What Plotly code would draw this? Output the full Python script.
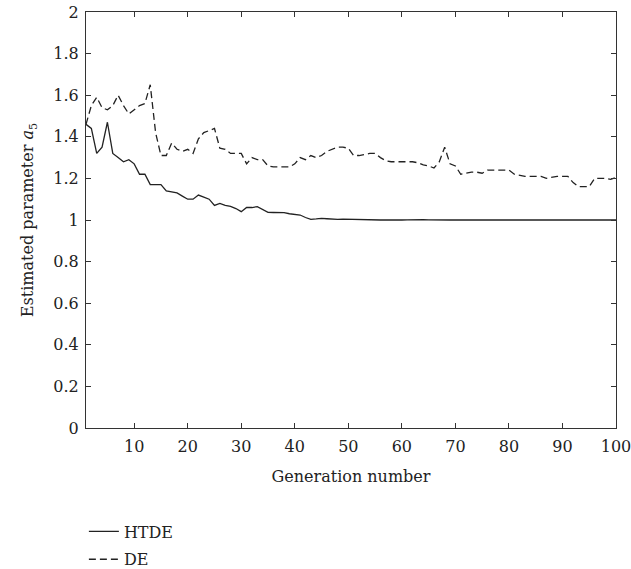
import plotly.graph_objects as go

generations = list(range(1, 101))

htde = [1.46, 1.44, 1.32, 1.35, 1.47, 1.32, 1.30, 1.28, 1.29, 1.27,
        1.22, 1.22, 1.17, 1.17, 1.17, 1.14, 1.135, 1.13, 1.115, 1.10,
        1.10, 1.12, 1.11, 1.10, 1.07, 1.08, 1.07, 1.065, 1.055, 1.04,
        1.06, 1.06, 1.064, 1.05, 1.037, 1.036, 1.036, 1.035, 1.03, 1.028,
        1.024, 1.012, 1.003, 1.005, 1.008, 1.006, 1.004, 1.003, 1.004, 1.003,
        1.004, 1.002, 1.001, 1.0, 1.001, 1.0, 1.0, 0.999, 1.0, 1.0,
        1.001, 1.002, 1.003, 1.002, 1.001, 1.0, 1.0, 1.0, 1.0, 1.0,
        1.0, 1.0, 1.0, 1.0, 1.0, 1.0, 1.0, 1.0, 1.0, 1.0,
        1.0, 1.0, 1.0, 1.0, 1.0, 1.0, 1.0, 1.0, 1.0, 1.0,
        1.0, 1.0, 1.0, 1.0, 1.0, 1.0, 1.0, 1.0, 1.0, 1.0]

de = [1.46, 1.55, 1.59, 1.54, 1.53, 1.55, 1.60, 1.55, 1.51, 1.53,
      1.55, 1.56, 1.65, 1.42, 1.31, 1.31, 1.37, 1.34, 1.33, 1.34,
      1.32, 1.39, 1.42, 1.43, 1.44, 1.345, 1.34, 1.32, 1.32, 1.32,
      1.27, 1.30, 1.29, 1.29, 1.26, 1.255, 1.255, 1.255, 1.255, 1.27,
      1.30, 1.29, 1.31, 1.30, 1.31, 1.33, 1.34, 1.35, 1.35, 1.345,
      1.31, 1.31, 1.315, 1.32, 1.32, 1.30, 1.285, 1.28, 1.28, 1.28,
      1.28, 1.28, 1.275, 1.265, 1.26, 1.25, 1.28, 1.35, 1.27, 1.26,
      1.22, 1.225, 1.23, 1.23, 1.225, 1.24, 1.24, 1.24, 1.24, 1.24,
      1.22, 1.215, 1.21, 1.21, 1.21, 1.21, 1.20, 1.205, 1.21, 1.21,
      1.21, 1.18, 1.16, 1.16, 1.16, 1.20, 1.20, 1.20, 1.195, 1.205]

x_ticks = [10, 20, 30, 40, 50, 60, 70, 80, 90, 100]
y_ticks = [0, 0.2, 0.4, 0.6, 0.8, 1, 1.2, 1.4, 1.6, 1.8, 2]
y_tick_text = ["0", "0.2", "0.4", "0.6", "0.8", "1", "1.2", "1.4", "1.6", "1.8", "2"]

FONT = "DejaVu Serif"
INK = "#222222"

fig = go.Figure()
fig.add_trace(go.Scatter(x=generations, y=htde, mode="lines", name="HTDE",
                         legendgroup="a",
                         line=dict(color=INK, width=1.3)))
fig.add_trace(go.Scatter(x=generations, y=de, mode="lines", name="DE",
                         legendgroup="b",
                         line=dict(color=INK, width=1.3, dash="7px,4px")))

axis_common = dict(showline=True, linecolor="#333333", linewidth=1.2, mirror="ticks",
                   ticks="inside", ticklen=5, tickcolor="#333333", showgrid=False,
                   zeroline=False, tickfont=dict(family=FONT, size=16, color=INK),
                   ticklabeloverflow="allow")

fig.update_xaxes(range=[1, 100.0001], tickvals=x_ticks, ticklabelstandoff=4,
                 title=dict(text="Generation number", font=dict(family=FONT, size=16, color=INK)),
                 **axis_common)
fig.update_yaxes(range=[0, 2], tickvals=y_ticks, ticktext=y_tick_text, ticklabelstandoff=3,
                 title=dict(text="Estimated parameter <i>a</i><sub>5</sub>", font=dict(family=FONT, size=16, color=INK)),
                 **axis_common)

fig.update_layout(
    width=631, height=569,
    margin=dict(l=86, r=15, t=12, b=141, autoexpand=False),
    paper_bgcolor="white", plot_bgcolor="white",
    font=dict(family=FONT, size=16, color=INK),
    legend=dict(x=-0.004, xanchor="left",
                y=-0.208, yanchor="top",
                font=dict(family=FONT, size=16, color=INK),
                tracegroupgap=4, bgcolor="rgba(0,0,0,0)"),
    showlegend=True,
)

fig.write_html("out.html")
